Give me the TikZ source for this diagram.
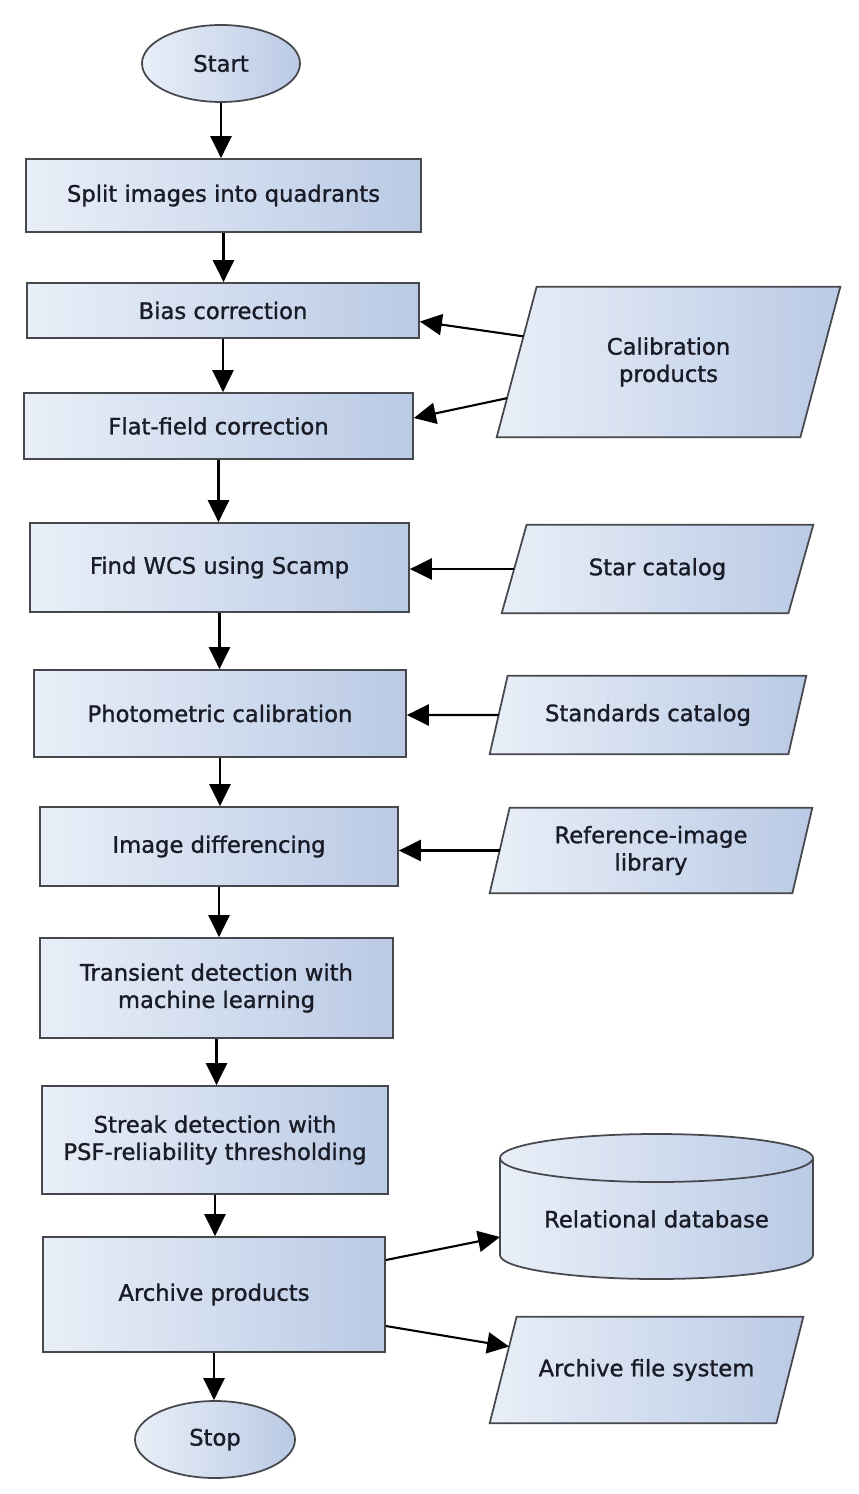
\documentclass[tikz,border=0pt]{standalone}
\usepackage{fontspec}
\setmainfont{DejaVu Sans}[FakeBold=1.2]
\usetikzlibrary{arrows.meta,calc,backgrounds,shapes.geometric}

\definecolor{boxleft}{RGB}{233,239,248}
\definecolor{boxright}{RGB}{186,202,229}
\definecolor{boxline}{RGB}{70,72,78}
\definecolor{boxtext}{RGB}{25,28,38}

\tikzset{
label font/.style={text=boxtext,
font=\fontsize{12.9}{15.5}\selectfont},
base/.style={draw=boxline,line width=1pt,
left color=boxleft,right color=boxright,
label font,align=center,inner sep=0pt},
stepbox/.style={base,rectangle},
term/.style={base,ellipse},
io/.style={label font,align=center,inner sep=0pt},
outline/.style={draw=boxline,line width=1pt},
flow/.style={-{Triangle[length=12.5pt,width=12pt]},
line width=1.2pt,black}
}

\begin{document}
\begin{tikzpicture}

\useasboundingbox (0,0) rectangle (17.16,-29.88);

% Pipeline
\node[term,minimum width=3.16cm,minimum height=1.54cm]
(start) at (4.42,-1.27) {Start};
\node[stepbox,minimum width=7.90cm,minimum height=1.46cm]
(split) at (4.47,-3.91) {Split images into quadrants};
\node[stepbox,minimum width=7.84cm,minimum height=1.10cm]
(bias) at (4.46,-6.21) {Bias correction};
\node[stepbox,minimum width=7.78cm,minimum height=1.32cm]
(flat) at (4.37,-8.52) {Flat-field correction};
\node[stepbox,minimum width=7.58cm,minimum height=1.78cm]
(wcs) at (4.39,-11.35) {Find WCS using Scamp};
\node[stepbox,minimum width=7.44cm,minimum height=1.74cm]
(phot) at (4.40,-14.27) {Photometric calibration};
\node[stepbox,minimum width=7.16cm,minimum height=1.58cm]
(diff) at (4.38,-16.93) {Image differencing};
\node[stepbox,minimum width=7.06cm,minimum height=2.00cm]
(trans) at (4.33,-19.76) {Transient detection with\\machine learning};
\node[stepbox,minimum width=6.92cm,minimum height=2.16cm]
(streak) at (4.30,-22.80) {Streak detection with\\PSF-reliability thresholding};
\node[stepbox,minimum width=6.84cm,minimum height=2.30cm]
(archive) at (4.28,-25.89) {Archive products};
\node[term,minimum width=3.20cm,minimum height=1.54cm]
(stop) at (4.30,-28.79) {Stop};

\foreach \a/\b in {start/split,split/bias,bias/flat,flat/wcs,
wcs/phot,phot/diff,diff/trans,trans/streak,streak/archive,archive/stop}
{
\draw[flow] (\a.south) -- (\a.south |- \b.north);
}

% Inputs and outputs
\node[io,minimum width=6.86cm,minimum height=3.00cm]
(cal) at (13.37,-7.24) {Calibration\\products};
\node[io,minimum width=6.22cm,minimum height=1.76cm]
(star) at (13.15,-11.38) {Star catalog};
\node[io,minimum width=6.32cm,minimum height=1.56cm]
(std) at (12.96,-14.30) {Standards catalog};
\node[io,minimum width=6.44cm,minimum height=1.70cm]
(ref) at (13.02,-17.01) {Reference-image\\library};
\node[io,minimum width=6.26cm,minimum height=2.12cm]
(afs) at (12.93,-27.40) {Archive file system};

\begin{scope}[on background layer]
\foreach \n/\s in {cal/0.80,star/0.50,std/0.36,ref/0.40,afs/0.54}
{
\coordinate (\n-tl) at ([xshift=\s cm]\n.north west);
\coordinate (\n-bl) at (\n.south west);
\draw[outline,left color=boxleft,right color=boxright]
(\n-tl) -- (\n.north east) -- ([xshift=-\s cm]\n.south east)
-- (\n-bl) -- cycle;
}
\end{scope}

\draw[flow] ($(cal-bl)!0.67!(cal-tl)$) -- ([yshift=-0.22cm]bias.east);
\draw[flow] ($(cal-bl)!0.26!(cal-tl)$) -- ([yshift=0.16cm]flat.east);
\draw[flow] ($(star-bl)!0.5!(star-tl)$) -- (star.west -| wcs.east);
\draw[flow] ($(std-bl)!0.5!(std-tl)$) -- (std.west -| phot.east);
\draw[flow] ($(ref-bl)!0.5!(ref-tl)$) -- (ref.west -| diff.east);

% Database
\node[io] (db) at (13.13,-24.38) {Relational database};
\coordinate (dbtop) at ([yshift=1.22cm]db.center);
\coordinate (dbbot) at ([yshift=-0.72cm]db.center);
\coordinate (dbin) at ([xshift=-3.13cm,yshift=-0.36cm]db.center);

\begin{scope}[on background layer]
\shade[left color=boxleft,right color=boxright]
([xshift=-3.13cm]dbtop) -- ([xshift=-3.13cm]dbbot)
arc[start angle=180,end angle=360,x radius=3.13cm,y radius=0.48cm]
-- ([xshift=3.13cm]dbtop) -- cycle;
\draw[outline]
([xshift=-3.13cm]dbtop) -- ([xshift=-3.13cm]dbbot)
arc[start angle=180,end angle=360,x radius=3.13cm,y radius=0.48cm]
-- ([xshift=3.13cm]dbtop);
\draw[outline,left color=boxleft,right color=boxright]
(dbtop) ellipse[x radius=3.13cm,y radius=0.48cm];
\end{scope}

\draw[flow] ([yshift=0.69cm]archive.east) -- (dbin);
\draw[flow] ([yshift=-0.63cm]archive.east) -- ($(afs-bl)!0.72!(afs-tl)$);

\end{tikzpicture}
\end{document}
